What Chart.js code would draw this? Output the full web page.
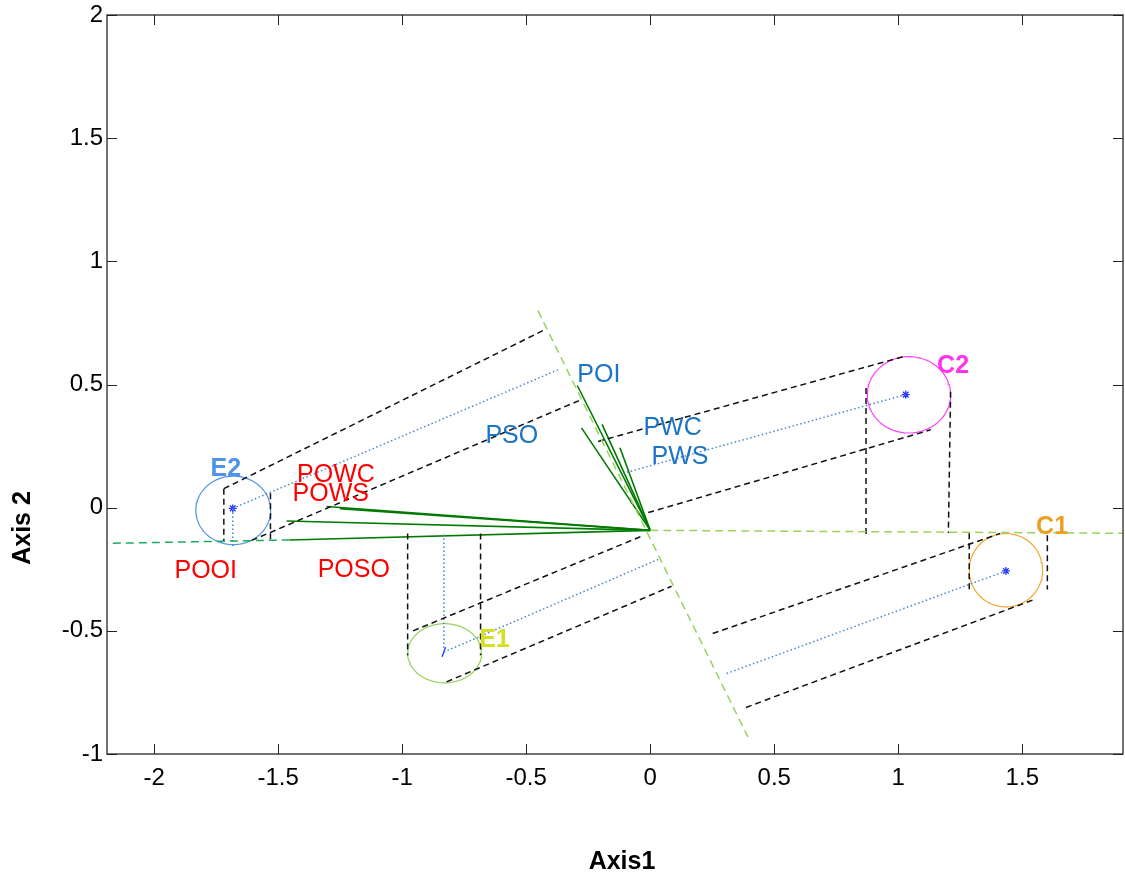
<!DOCTYPE html>
<html>
<head>
<meta charset="utf-8">
<title>Biplot</title>
<script src="https://cdn.jsdelivr.net/npm/chart.js@4.4.0/dist/chart.umd.min.js"></script>
<style>
    html, body { margin: 0; padding: 0; background: #fff; }
    #wrap { width: 1125px; height: 876px; }
</style>
</head>
<body>
<div id="wrap"><canvas id="biplot" width="1125" height="876"></canvas></div>
<script>
// Axis ticks and limits
const xTicks = [-2, -1.5, -1, -0.5, 0, 0.5, 1, 1.5];
const yTicks = [-1, -0.5, 0, 0.5, 1, 1.5, 2];
const xRange = [-2.19, 1.906];
const yRange = [-1, 2];

// Reference axes (light green dashed)
const diagonalAxis = [[-0.453, 0.800], [0.394, -0.931]];
const horizontalAxis = [[0, -0.092], [1.906, -0.104]];
const leftAxis = [[-1.453, -0.131], [-2.19, -0.145]];

// Variable vectors (green), all from the origin
const origin = [0, -0.092];
const vectorEnds = [
    [-0.294, 0.496], [-0.277, 0.324], [-0.194, 0.338], [-0.122, 0.243],
    [-1.305, 0.005], [-1.251, -0.004], [-1.466, -0.054], [-1.453, -0.131]
];

// Variable names
const blueNames = ['POI', 'PSO', 'PWC', 'PWS'];
const bluePos = [[-0.207, 0.537], [-0.558, 0.289], [0.090, 0.321], [0.120, 0.204]];
const redNames = ['POWC', 'POWS', 'POOI', 'POSO'];
const redPos = [[-1.267, 0.131], [-1.288, 0.054], [-1.792, -0.258], [-1.195, -0.254]];

// Groups
const groups = ['E2', 'E1', 'C2', 'C1'];
const circleColors = ['#4f94e8', '#9ad060', '#ff40ff', '#f0a830'];
const labelColors = ['#4f94e8', '#d4e020', '#ff33ee', '#eba020'];
const groupMeans = [[-1.683, -0.003], [-0.832, -0.586], [1.030, 0.459], [1.434, -0.257]];
const circleCenters = [[-1.681, -0.011], [-0.829, -0.591], [1.043, 0.458], [1.434, -0.254]];
const circleRadii = [[0.151, 0.139], [0.149, 0.120], [0.168, 0.155], [0.148, 0.149]];
const groupLabelPos = [[-1.711, 0.155], [-0.628, -0.538], [1.221, 0.573], [1.620, -0.080]];

// Projection of each mean onto the diagonal axis (blue dotted)
const projEnds = [[-0.364, 0.563], [0.039, -0.207], [-0.115, 0.138], [0.301, -0.676]];
// Projection onto the horizontal axis (only E2 and E1 drawn)
const projVertical = [[[-1.683, -0.003], [-1.683, -0.160]], [[-0.832, -0.586], [-0.832, -0.105]]];

// Confidence bands (black dashed): upper / lower parallels and verticals
const bandUpper = [
    [[-1.719, 0.077], [-0.418, 0.726]],
    [[-0.956, -0.500], [-0.035, -0.116]],
    [[-0.210, 0.269], [1.020, 0.613]],
    [[0.252, -0.511], [1.410, -0.105]]
];
const bandLower = [
    [[-1.607, -0.133], [-0.277, 0.439]],
    [[-0.821, -0.707], [0.086, -0.319]],
    [[-0.008, -0.020], [1.131, 0.316]],
    [[0.386, -0.811], [1.547, -0.373]]
];
const bandLeft = [
    [[-1.719, 0.077], [-1.719, -0.139]],
    [[-0.978, -0.105], [-0.978, -0.599]],
    [[0.870, 0.486], [0.870, -0.112]],
    [[1.286, -0.104], [1.286, -0.332]]
];
const bandRight = [
    [[-1.531, 0.059], [-1.531, -0.133]],
    [[-0.684, -0.105], [-0.684, -0.599]],
    [[1.211, 0.471], [1.202, -0.103]],
    [[1.601, -0.112], [1.601, -0.332]]
];

const FONT = "'Liberation Sans', Arial, Helvetica, sans-serif";

const pts = seg => seg.map(p => ({ x: p[0], y: p[1] }));

function lineSet(seg, color, dash, width) {
    return {
        data: pts(seg),
        showLine: true,
        borderColor: color,
        borderWidth: width || 1.5,
        borderDash: dash || [],
        pointRadius: 0,
        fill: false
    };
}

function ellipse(c, r) {
    const out = [];
    for (let i = 0; i <= 90; i++) {
        const t = i / 90 * 2 * Math.PI;
        out.push([c[0] + r[0] * Math.cos(t), c[1] + r[1] * Math.sin(t)]);
    }
    return out;
}

const datasets = [];
const axisGreen = '#9ad35c';
datasets.push(lineSet(diagonalAxis, axisGreen, [8, 5]));
datasets.push(lineSet(horizontalAxis, axisGreen, [8, 5]));
datasets.push(lineSet(leftAxis, '#1faa5a', [8, 5]));

groups.forEach((g, i) => {
    datasets.push(lineSet(bandUpper[i], '#111', [6, 4]));
    datasets.push(lineSet(bandLower[i], '#111', [6, 4]));
    datasets.push(lineSet(bandLeft[i], '#111', [6, 4]));
    datasets.push(lineSet(bandRight[i], '#111', [6, 4]));
    datasets.push(lineSet([groupMeans[i], projEnds[i]], '#4a86d0', [1.5, 2.5]));
});
projVertical.forEach(seg => datasets.push(lineSet(seg, '#4a86d0', [1.5, 2.5])));

groups.forEach((g, i) => {
    datasets.push(lineSet(ellipse(circleCenters[i], circleRadii[i]), circleColors[i], [], 1.2));
});

vectorEnds.forEach(end => datasets.push(lineSet([origin, end], '#007a00', [], 1.6)));

// group mean markers
datasets.push({
    data: pts(groupMeans),
    showLine: false,
    pointStyle: groups.map(g => g === 'E1' ? 'line' : 'star'),
    rotation: groups.map(g => g === 'E1' ? -70 : 0),
    pointRadius: groups.map(g => g === 'E1' ? 5 : 4),
    borderColor: '#2233ff',
    borderWidth: 1.3,
    backgroundColor: '#2233ff'
});

// Box, inward ticks, data labels, axis titles
const decorPlugin = {
    id: 'decor',
    afterDatasetsDraw(chart) {
        const { ctx, scales: { x, y } } = chart;
        ctx.save();
        ctx.textAlign = 'center';
        ctx.textBaseline = 'middle';
        ctx.font = `25px ${FONT}`;
        ctx.fillStyle = '#1a73c4';
        blueNames.forEach((n, i) => ctx.fillText(n, x.getPixelForValue(bluePos[i][0]), y.getPixelForValue(bluePos[i][1])));
        ctx.fillStyle = '#ff0000';
        redNames.forEach((n, i) => ctx.fillText(n, x.getPixelForValue(redPos[i][0]), y.getPixelForValue(redPos[i][1])));
        ctx.font = `bold 25px ${FONT}`;
        groups.forEach((g, i) => {
            ctx.fillStyle = labelColors[i];
            ctx.fillText(g, x.getPixelForValue(groupLabelPos[i][0]), y.getPixelForValue(groupLabelPos[i][1]));
        });
        ctx.restore();
    },
    afterDraw(chart) {
        const { ctx, chartArea: a, scales: { x, y } } = chart;
        ctx.save();
        ctx.strokeStyle = '#444';
        ctx.lineWidth = 1.5;
        ctx.strokeRect(a.left, a.top, a.right - a.left, a.bottom - a.top);
        ctx.lineWidth = 1;
        ctx.strokeStyle = '#222';
        ctx.beginPath();
        xTicks.forEach(v => {
            const px = Math.round(x.getPixelForValue(v)) + 0.5;
            ctx.moveTo(px, a.bottom); ctx.lineTo(px, a.bottom - 10);
            ctx.moveTo(px, a.top); ctx.lineTo(px, a.top + 10);
        });
        yTicks.forEach(v => {
            const py = Math.round(y.getPixelForValue(v)) + 0.5;
            ctx.moveTo(a.left, py); ctx.lineTo(a.left + 10, py);
            ctx.moveTo(a.right, py); ctx.lineTo(a.right - 10, py);
        });
        ctx.stroke();

        // axis titles are offset from the axis centres in the original
        ctx.font = `bold 25px ${FONT}`;
        ctx.fillStyle = '#000';
        ctx.textAlign = 'center';
        ctx.textBaseline = 'middle';
        ctx.fillText('Axis1', 622, 862);
        ctx.translate(23, 528);
        ctx.rotate(-Math.PI / 2);
        ctx.fillText('Axis 2', 0, 0);
        ctx.restore();
    }
};

// drop the label overhang padding so the plot box lands where the original has it
function noPad(s) {
    s.paddingTop = 0;
    s.paddingBottom = 0;
    s.paddingLeft = 0;
    s.paddingRight = 0;
}

new Chart(document.getElementById('biplot').getContext('2d'), {
    type: 'scatter',
    data: { datasets },
    plugins: [decorPlugin],
    options: {
        responsive: false,
        animation: false,
        layout: { autoPadding: false, padding: { top: 15, right: 2, left: 0, bottom: 0 } },
        plugins: {
            legend: { display: false },
            tooltip: { enabled: false }
        },
        scales: {
            x: {
                type: 'linear',
                min: xRange[0],
                max: xRange[1],
                afterBuildTicks: s => { s.ticks = xTicks.map(v => ({ value: v })); },
                afterFit: s => { s.height = 122; noPad(s); },
                grid: { display: false, drawTicks: false },
                border: { display: false },
                ticks: {
                    autoSkip: false,
                    maxRotation: 0,
                    padding: 10,
                    color: '#000',
                    font: { family: FONT, size: 24 },
                    callback: v => String(v)
                }
            },
            y: {
                type: 'linear',
                min: yRange[0],
                max: yRange[1],
                afterBuildTicks: s => { s.ticks = yTicks.map(v => ({ value: v })); },
                afterFit: s => { s.width = 107; noPad(s); },
                grid: { display: false, drawTicks: false },
                border: { display: false },
                ticks: {
                    autoSkip: false,
                    padding: 4,
                    color: '#000',
                    font: { family: FONT, size: 24 },
                    callback: v => String(v)
                }
            }
        }
    }
});
</script>
</body>
</html>
